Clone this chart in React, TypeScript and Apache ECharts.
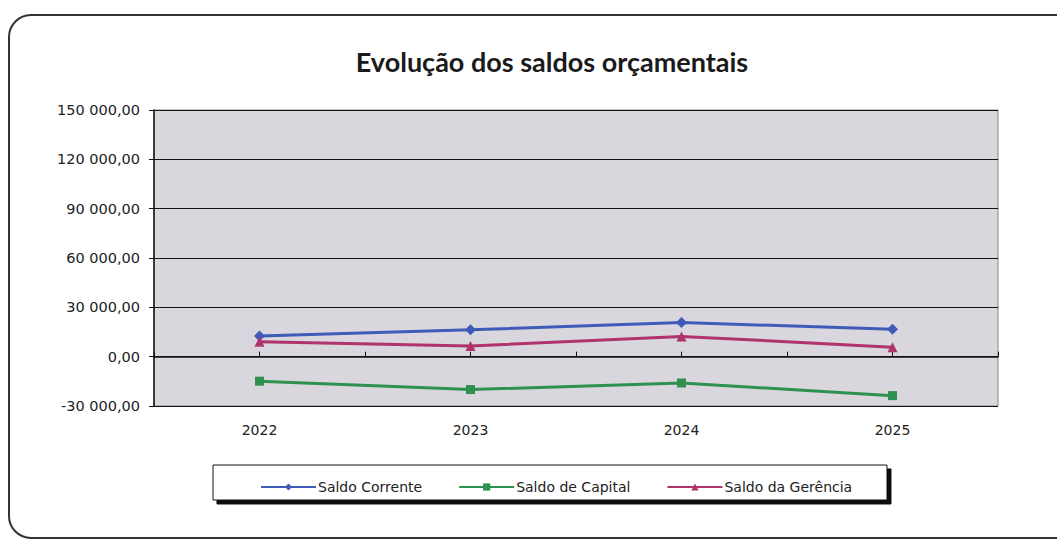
import React, { useEffect, useRef } from "react";
import * as echarts from "echarts";

const title = "Evolução dos saldos orçamentais";
const years = ["2022", "2023", "2024", "2025"];
const tickSlots = ["", "", "", "", "", "", "", ""];
const saldoCorrente = [12500, 16300, 20800, 16600];
const saldoCapital = [-14900, -20000, -16000, -23700];
const saldoGerencia = [9000, 6500, 12300, 5800];
const seriesNames = ["Saldo Corrente", "Saldo de Capital", "Saldo da Gerência"];

const fmt = (v: number) => {
  const neg = v < 0;
  const s = Math.abs(v).toFixed(0).replace(/\B(?=(\d{3})+(?!\d))/g, " ");
  return (neg ? "-" : "") + s + ",00";
};

export default function App() {
  const ref = useRef<HTMLDivElement>(null);
  useEffect(() => {
    if (!ref.current) return;
    const chart = echarts.init(ref.current, undefined, { renderer: "svg" });
    const axisFont = { fontFamily: "DejaVu Sans", color: "#222" };
    chart.setOption({
      animation: false,
      backgroundColor: "#fff",
      title: {
        text: title,
        left: 547,
        textAlign: "center",
        top: 43,
        textStyle: { fontFamily: "Lato", fontWeight: "bold", fontSize: 27, color: "#1a1a1a" },
      },
      graphic: [
        {
          type: "rect",
          shape: { x: 9, y: 15, width: 1070, height: 523, r: 22 },
          style: { fill: "none", stroke: "#333", lineWidth: 2 },
          z: 0,
        },
        {
          type: "rect",
          shape: { x: 213, y: 465, width: 674, height: 35 },
          style: {
            fill: "#fff",
            stroke: "#111",
            lineWidth: 1,
            shadowColor: "#111",
            shadowOffsetX: 4,
            shadowOffsetY: 4,
            shadowBlur: 0,
          },
          z: 1,
        },
      ],
      legend: {
        data: seriesNames,
        left: 255,
        top: 475,
        itemWidth: 55,
        itemHeight: 9,
        itemGap: 36,
        textStyle: { fontFamily: "DejaVu Sans", fontSize: 14, color: "#222", padding: [0, 0, 0, -3] },
      },
      grid: {
        left: 154,
        right: 59,
        top: 110,
        bottom: 134,
        show: true,
        backgroundColor: "#d9d6dd",
        borderColor: "#888",
        borderWidth: 1,
      },
      xAxis: [
        {
          type: "category",
          data: years,
          boundaryGap: true,
          position: "bottom",
          axisLine: { show: false, onZero: false },
          axisTick: { show: false },
          axisLabel: { ...axisFont, fontSize: 14, margin: 17 },
        },
        {
          type: "category",
          data: tickSlots,
          boundaryGap: true,
          position: "bottom",
          axisLine: { show: true, onZero: true, lineStyle: { color: "#111", width: 1.5 } },
          axisTick: { show: true, inside: true, length: 5, lineStyle: { color: "#111" } },
          axisLabel: { show: false },
          splitLine: { show: false },
        },
      ],
      yAxis: {
        type: "value",
        min: -30000,
        max: 150000,
        interval: 30000,
        axisLine: { show: true, lineStyle: { color: "#111", width: 1.5 } },
        axisTick: { show: true, length: 5, lineStyle: { color: "#111" } },
        axisLabel: { ...axisFont, fontSize: 14.5, margin: 14, formatter: (v: number) => fmt(v) },
        splitLine: { show: true, lineStyle: { color: "#111", width: 1.2 } },
      },
      series: [
        {
          name: seriesNames[0],
          type: "line",
          data: saldoCorrente,
          xAxisIndex: 0,
          symbol: "diamond",
          symbolSize: 11,
          color: "#3f5bb8",
          lineStyle: { width: 3 },
        },
        {
          name: seriesNames[1],
          type: "line",
          data: saldoCapital,
          xAxisIndex: 0,
          symbol: "rect",
          symbolSize: 9,
          color: "#2f9150",
          lineStyle: { width: 3 },
        },
        {
          name: seriesNames[2],
          type: "line",
          data: saldoGerencia,
          xAxisIndex: 0,
          symbol: "triangle",
          symbolSize: 10,
          color: "#b0336c",
          lineStyle: { width: 3 },
        },
      ],
    });
    return () => chart.dispose();
  }, []);
  return (
    <div
      ref={ref}
      style={{ position: "fixed", left: 0, top: 0, width: 1057, height: 540 }}
    />
  );
}
